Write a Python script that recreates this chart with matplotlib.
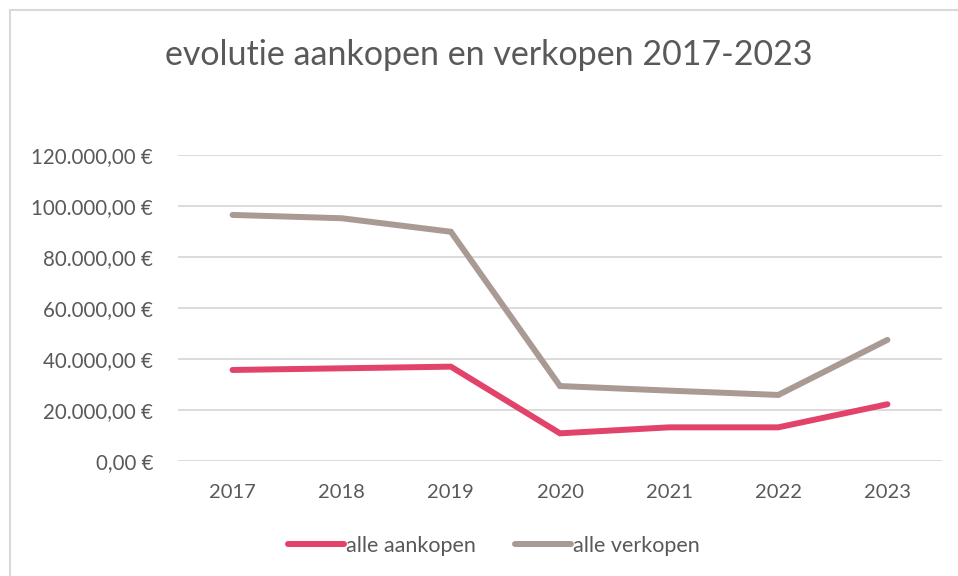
import matplotlib
matplotlib.use("Agg")
import matplotlib.pyplot as plt
from matplotlib.lines import Line2D
from matplotlib.ticker import FuncFormatter

years = ["2017", "2018", "2019", "2020", "2021", "2022", "2023"]
aankopen = [35700, 36350, 37000, 10850, 13200, 13200, 22250]
verkopen = [96500, 95200, 89900, 29400, 27600, 25900, 47500]
yticks = [0, 20000, 40000, 60000, 80000, 100000, 120000]

plt.rcParams['font.family'] = ['Lato', 'DejaVu Sans']
txt = '#595959'

fig = plt.figure(figsize=(9.58, 5.76), dpi=100)
bx, by = 10/958, 1 - 10/576
fig.add_artist(Line2D([bx, bx], [0, by], transform=fig.transFigure, color='#d9d9d9', linewidth=1.5))
fig.add_artist(Line2D([bx, 1], [by, by], transform=fig.transFigure, color='#d9d9d9', linewidth=1.5))

ax = fig.add_axes([178/958, 1 - 461/576, (942 - 178)/958, (461 - 155)/576])
x = range(len(years))
ax.plot(x, aankopen, color='#E2436A', linewidth=4.3, solid_capstyle='round',
        solid_joinstyle='miter', label='alle aankopen', zorder=3)
ax.plot(x, verkopen, color='#A99A93', linewidth=4.3, solid_capstyle='round',
        solid_joinstyle='miter', label='alle verkopen', zorder=3)

ax.set_xlim(-0.5, len(years) - 0.5)
ax.set_ylim(0, 120000)
ax.set_xticks(list(x))
ax.set_xticklabels(years)
ax.set_yticks(yticks)

def fmt(v, pos):
    s = f"{v:,.2f}".replace(",", "X").replace(".", ",").replace("X", ".")
    return s + " €"
ax.yaxis.set_major_formatter(FuncFormatter(fmt))

ax.grid(axis='y', color='#d9d9d9', linewidth=1.3)
ax.set_axisbelow(True)
for s in ['top', 'right', 'left', 'bottom']:
    ax.spines[s].set_visible(False)
ax.tick_params(axis='both', length=0, labelcolor=txt)
ax.tick_params(axis='y', pad=18, labelsize=14.8)
ax.tick_params(axis='x', pad=16.5, labelsize=14.5)

fig.text(489/958, 1 - 55/576, "evolutie aankopen en verkopen 2017-2023",
         ha='center', va='center', fontsize=24.5, color=txt)

leg = fig.legend(loc='center', bbox_to_anchor=(494/958, 1 - 546/576), ncol=2,
                 frameon=False, fontsize=15.5, handlelength=2.6, handletextpad=0.1,
                 columnspacing=1.8)
for t in leg.get_texts():
    t.set_color(txt)

fig.savefig("out.png", dpi=100)
